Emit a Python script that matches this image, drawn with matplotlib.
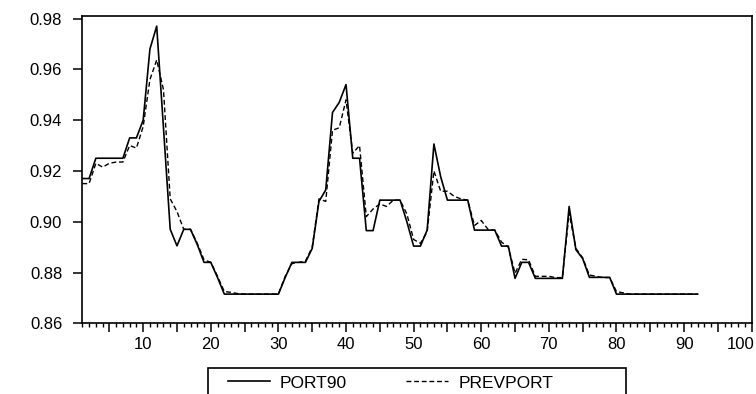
import matplotlib
matplotlib.use('Agg')
import matplotlib.pyplot as plt
import matplotlib.patches as patches
import matplotlib.transforms as mtransforms
from matplotlib.ticker import MultipleLocator, FuncFormatter
import numpy as np

plt.rcParams['font.family'] = ['Liberation Sans', 'DejaVu Sans']

# --- data ---
obs = np.arange(1, 93)

port90 = [0.917, 0.917, 0.925, 0.925, 0.925, 0.925, 0.925, 0.933, 0.933, 0.940,
          0.968, 0.977, 0.937, 0.897, 0.8905, 0.897, 0.897, 0.891, 0.884, 0.884,
          0.878, 0.8715, 0.8715, 0.8715, 0.8715, 0.8715, 0.8715, 0.8715, 0.8715, 0.8715,
          0.878, 0.884, 0.884, 0.884, 0.8895, 0.908, 0.9125, 0.943, 0.947, 0.954,
          0.925, 0.925, 0.8965, 0.8965, 0.9085, 0.9085, 0.9085, 0.9085, 0.900, 0.8904,
          0.8904, 0.8967, 0.9306, 0.9177, 0.9085, 0.9085, 0.9085, 0.9085, 0.8967, 0.8967,
          0.8967, 0.8967, 0.8904, 0.8904, 0.8777, 0.884, 0.884, 0.8777, 0.8777, 0.8777,
          0.8777, 0.8777, 0.906, 0.889, 0.8855, 0.8781, 0.8781, 0.8781, 0.8781, 0.8715,
          0.8715, 0.8715, 0.8715, 0.8715, 0.8715, 0.8715, 0.8715, 0.8715, 0.8715, 0.8715,
          0.8715, 0.8715]

prevport = [0.915, 0.915, 0.923, 0.9215, 0.923, 0.9235, 0.9235, 0.930, 0.929, 0.9375,
            0.956, 0.9637, 0.952, 0.909, 0.904, 0.897, 0.897, 0.8915, 0.885, 0.884,
            0.8785, 0.8725, 0.8722, 0.8717, 0.8715, 0.8715, 0.8715, 0.8715, 0.8715, 0.8715,
            0.8785, 0.8835, 0.884, 0.8845, 0.890, 0.909, 0.908, 0.936, 0.937, 0.948,
            0.927, 0.930, 0.902, 0.905, 0.907, 0.906, 0.9085, 0.9085, 0.903, 0.893,
            0.8915, 0.896, 0.920, 0.912, 0.912, 0.910, 0.909, 0.9085, 0.8985, 0.9005,
            0.897, 0.8967, 0.892, 0.890, 0.8797, 0.8852, 0.885, 0.8785, 0.8785, 0.8785,
            0.878, 0.878, 0.9035, 0.8895, 0.8858, 0.879, 0.8785, 0.878, 0.878, 0.8725,
            0.872, 0.8715, 0.8715, 0.8715, 0.8715, 0.8715, 0.8715, 0.8715, 0.8715, 0.8715,
            0.8715, 0.8715]

series_names = ['PORT90', 'PREVPORT']

# --- figure ---
fig = plt.figure(figsize=(7.56, 3.94), dpi=100, facecolor='white')
ax = fig.add_axes([0.1089, 0.1794, 0.8854, 0.78])

ax.plot(obs, port90, color='black', lw=1.2, label=series_names[0])
ax.plot(obs, prevport, color='black', lw=1.0, linestyle=(0, (3.5, 2.0)), label=series_names[1])

ax.set_xlim(1, 100)
ax.set_ylim(0.86, 0.981)

ax.xaxis.set_major_locator(MultipleLocator(5))
ax.xaxis.set_minor_locator(MultipleLocator(1))
ax.xaxis.set_major_formatter(FuncFormatter(lambda v, p: '%d' % v if int(round(v)) % 10 == 0 else ''))
ax.yaxis.set_major_locator(MultipleLocator(0.02))
ax.yaxis.set_major_formatter(FuncFormatter(lambda v, p: '%.2f' % v))

ax.tick_params(axis='x', which='major', direction='out', length=6.5, width=1.1, labelsize=12, pad=3)
ax.tick_params(axis='x', which='minor', direction='out', length=3, width=1.0)
ax.tick_params(axis='y', which='major', direction='out', length=6.5, width=1.1, labelsize=12, pad=8)
for s in ax.spines.values():
    s.set_linewidth(1.2)

# keep the last x label ("100") inside the figure, like the reference
fig.canvas.draw()
for lab in ax.get_xticklabels():
    if lab.get_text() == '100':
        lab.set_horizontalalignment('right')
        lab.set_transform(lab.get_transform() + mtransforms.ScaledTranslation(3 / 100, 0, fig.dpi_scale_trans))

# legend box below the plot
fig.add_artist(patches.Rectangle((208 / 756, -0.02), 418 / 756, 0.086, transform=fig.transFigure,
                                 facecolor='white', edgecolor='black', lw=1.2))
fig.legend(loc='center left', bbox_to_anchor=(228 / 756, 1 - 383 / 394), bbox_transform=fig.transFigure,
           ncol=2, frameon=False, fontsize=12.5, handlelength=2.4, handletextpad=0.6,
           columnspacing=3.4, borderpad=0, borderaxespad=0)

plt.savefig('out.png', dpi=100)
